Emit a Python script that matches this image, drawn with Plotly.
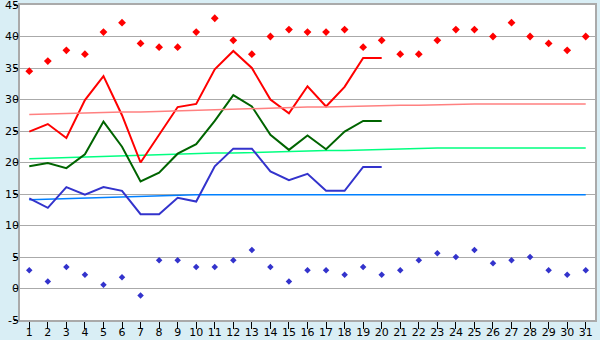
import plotly.graph_objects as go

days = list(range(1, 32))
obs_days = list(range(1, 21))

rec_max = [34.5, 36.1, 37.8, 37.2, 40.7, 42.2, 38.9, 38.3, 38.3, 40.7,
           42.9, 39.4, 37.2, 40.0, 41.1, 40.7, 40.7, 41.1, 38.3, 39.4,
           37.2, 37.2, 39.4, 41.1, 41.1, 40.0, 42.2, 40.0, 38.9, 37.8, 40.0]
rec_min = [2.9, 1.1, 3.4, 2.2, 0.6, 1.8, -1.1, 4.5, 4.5, 3.4,
           3.4, 4.5, 6.1, 3.4, 1.1, 2.9, 2.9, 2.2, 3.4, 2.2,
           2.9, 4.5, 5.6, 5.0, 6.1, 4.0, 4.5, 5.0, 2.9, 2.2, 2.9]
t_max = [24.9, 26.1, 23.9, 29.9, 33.7, 27.5, 20.0, 24.3, 28.8, 29.3,
         34.8, 37.7, 35.0, 30.0, 27.8, 32.1, 28.9, 32.0, 36.6, 36.6]
t_mean = [19.4, 19.9, 19.1, 21.3, 26.5, 22.5, 17.0, 18.4, 21.4, 22.9,
          26.6, 30.7, 28.9, 24.4, 22.0, 24.3, 22.1, 24.9, 26.6, 26.6]
t_min = [14.3, 12.8, 16.1, 14.9, 16.1, 15.5, 11.8, 11.8, 14.4, 13.8,
         19.4, 22.2, 22.2, 18.6, 17.2, 18.2, 15.5, 15.5, 19.3, 19.3]
norm_max = [27.6, 27.7, 27.7, 27.8, 27.9, 28.0, 28.0, 28.1, 28.2, 28.3,
            28.4, 28.5, 28.5, 28.6, 28.7, 28.8, 28.8, 28.9, 29.0, 29.0,
            29.1, 29.1, 29.2, 29.3, 29.3, 29.3, 29.3, 29.3, 29.3, 29.3, 29.3]
norm_mean = [20.6, 20.7, 20.8, 20.9, 21.0, 21.1, 21.1, 21.2, 21.3, 21.4,
             21.5, 21.5, 21.6, 21.7, 21.7, 21.8, 21.9, 21.9, 22.0, 22.0,
             22.1, 22.2, 22.3, 22.3, 22.3, 22.3, 22.3, 22.3, 22.3, 22.3, 22.3]
norm_min = [14.1, 14.2, 14.3, 14.4, 14.5, 14.6, 14.6, 14.7, 14.8, 14.9,
            14.9, 14.9, 14.9, 14.9, 15.0, 15.0, 15.0, 15.0, 15.0, 15.0,
            15.0, 15.0, 15.0, 15.0, 15.0, 15.0, 15.0, 15.0, 15.0, 14.9, 14.9]

y_ticks = list(range(-5, 50, 5))
x_range = [0.5, 31.5]
y_range = [-5, 45]

fig = go.Figure()
# normal lines drawn on the label-carrying overlay axes (same ranges)
fig.add_trace(go.Scatter(x=days, y=norm_max, mode="lines", xaxis="x2", yaxis="y2",
                         line=dict(color="#FF8080", width=1.5)))
fig.add_trace(go.Scatter(x=days, y=norm_mean, mode="lines",
                         line=dict(color="#00FF80", width=1.5)))
fig.add_trace(go.Scatter(x=days, y=norm_min, mode="lines",
                         line=dict(color="#0080FF", width=1.5)))
fig.add_trace(go.Scatter(x=obs_days, y=t_max, mode="lines",
                         line=dict(color="#FF0000", width=2)))
fig.add_trace(go.Scatter(x=obs_days, y=t_mean, mode="lines",
                         line=dict(color="#006400", width=2)))
fig.add_trace(go.Scatter(x=obs_days, y=t_min, mode="lines",
                         line=dict(color="#3333CC", width=2)))
fig.add_trace(go.Scatter(x=days, y=rec_max, mode="markers",
                         marker=dict(color="#FF0000", symbol="diamond", size=6)))
fig.add_trace(go.Scatter(x=days, y=rec_min, mode="markers",
                         marker=dict(color="#3333CC", symbol="diamond", size=5)))

fig.update_layout(
    width=600, height=340,
    margin=dict(l=20, r=5, t=5, b=20),
    paper_bgcolor="#D9EEF5",
    plot_bgcolor="#FFFFFF",
    showlegend=False,
    font=dict(family="DejaVu Sans", size=11, color="#000000"),
    xaxis=dict(
        range=x_range, tickmode="array", tickvals=days, showticklabels=False,
        automargin=False, showgrid=False, zeroline=False,
        showline=True, linecolor="#AAAAAA", linewidth=2, mirror=True,
        ticks="outside", ticklen=7, tickcolor="#000000", tickwidth=1,
    ),
    yaxis=dict(
        range=y_range, tickmode="array", tickvals=y_ticks, showticklabels=False,
        automargin=False, showgrid=True, gridcolor="#AAAAAA", gridwidth=1,
        zeroline=False,
        showline=True, linecolor="#AAAAAA", linewidth=2, mirror=True,
        ticks="outside", ticklen=4, tickcolor="#000000", tickwidth=1,
    ),
    xaxis2=dict(
        range=x_range, overlaying="x", side="bottom", tickmode="array",
        tickvals=days, ticktext=[str(d) for d in days], automargin=False,
        showgrid=False, zeroline=False, showline=False, ticks="",
        ticklabelstandoff=4, ticklabeloverflow="allow",
    ),
    yaxis2=dict(
        range=y_range, overlaying="y", side="left", tickmode="array",
        tickvals=y_ticks, ticktext=[str(v) for v in y_ticks], automargin=False,
        showgrid=False, zeroline=False, showline=False, ticks="",
        ticklabeloverflow="allow",
    ),
)
fig.write_html("out.html")
